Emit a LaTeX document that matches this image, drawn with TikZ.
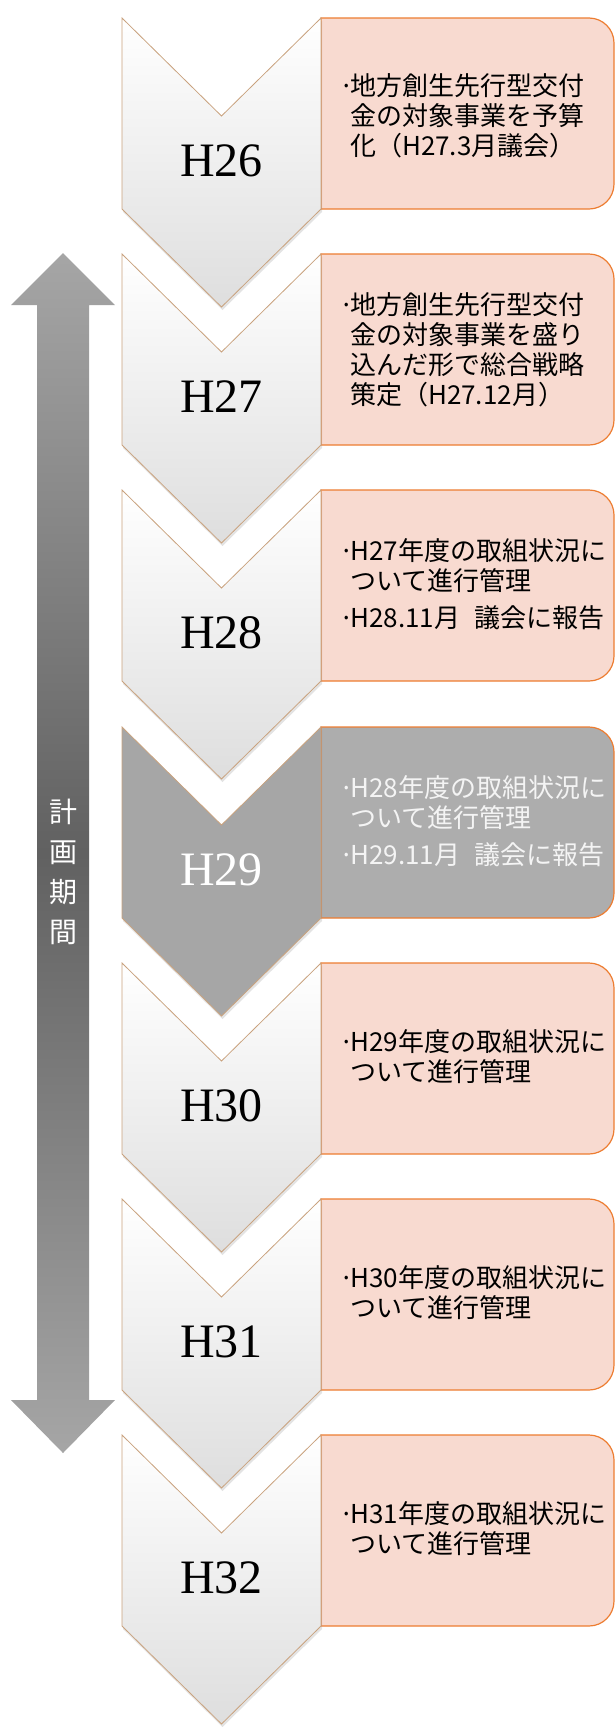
\documentclass[tikz,border=0pt]{standalone}
\usepackage{fontspec}
\setmainfont{Liberation Serif}
\newfontfamily\jp{Noto Sans CJK JP}
\usetikzlibrary{shadows}
\definecolor{boxpink}{HTML}{F8DAD0}
\definecolor{boxedge}{HTML}{ED7D31}
\definecolor{chevedge}{HTML}{C9A27E}
\definecolor{darkfill}{HTML}{A6A6A6}
\definecolor{darkbox}{HTML}{ADADAD}
\definecolor{lighttext}{HTML}{F4F4F4}
\newcommand\bl{\makebox[11pt][l]{·}}
\newcommand\ind{\hspace*{11pt}}
\newcommand\stage[5]{%
  \draw[#5] (321,#1) -- (589,#1) arc[start angle=-90,end angle=0,radius=25]
     -- (614,{#1+166}) arc[start angle=0,end angle=90,radius=25]
     -- (321,{#1+191}) -- cycle;
  \draw[#4] (122,#1) -- (221.5,{#1+98}) -- (321,#1) -- (321,{#1+191})
     -- (221.5,{#1+289}) -- (122,{#1+191}) -- cycle;
  \node[yearlabel] (#2) at (221.5,{#1+143}) {#3};
}
\tikzset{
  chevlight/.style={draw=chevedge, line width=0.8pt, top color=white, bottom color=black!13,
     drop shadow={opacity=0.22, shadow xshift=1pt, shadow yshift=-3pt}},
  chevdark/.style={draw=chevedge, line width=0.8pt, fill=darkfill,
     drop shadow={opacity=0.22, shadow xshift=1pt, shadow yshift=-3pt}},
  boxlight/.style={draw=boxedge, line width=1.2pt, fill=boxpink},
  boxdark/.style={draw=boxedge, line width=1.2pt, fill=darkbox},
  yearlabel/.style={font=\fontsize{48}{48}\selectfont, inner sep=0pt},
  boxtext/.style={anchor=west, align=left, inner sep=0pt, font=\jp\fontsize{26}{30}\selectfont},
}
\begin{document}
\begin{tikzpicture}[x=1pt,y=-1pt]
\useasboundingbox (0,0) rectangle (615,1727);
% period arrow
\path[top color=black!35, bottom color=black!35, middle color=black!62]
  (63,253) -- (115,305) -- (89,305) -- (89,1400) -- (115,1400) -- (63,1453)
  -- (11,1400) -- (37,1400) -- (37,305) -- (11,305) -- cycle;
\node[align=center, text=white, inner sep=0pt, font=\jp\fontsize{28}{40}\selectfont] (period) at (63,872) {計\\画\\期\\間};
% stages
\stage{18}{y26}{H26}{chevlight}{boxlight}
\stage{254}{y27}{H27}{chevlight}{boxlight}
\stage{490}{y28}{H28}{chevlight}{boxlight}
\stage{727}{y29}{\textcolor{white}{H29}}{chevdark}{boxdark}
\stage{963}{y30}{H30}{chevlight}{boxlight}
\stage{1199}{y31}{H31}{chevlight}{boxlight}
\stage{1435}{y32}{H32}{chevlight}{boxlight}
% texts
\node[boxtext] (t26) at (339,116) {\bl 地方創生先行型交付\\\ind 金の対象事業を予算\\\ind 化（H27.3月議会）};
\node[boxtext] (t27) at (339,350) {\bl 地方創生先行型交付\\\ind 金の対象事業を盛り\\\ind 込んだ形で総合戦略\\\ind 策定（H27.12月）};
\node[boxtext] (t28) at (339,584) {\bl H27年度の取組状況に\\\ind ついて進行管理\\[7pt]\bl H28.11月\hspace{14pt}議会に報告};
\node[boxtext, text=lighttext] (t29) at (339,821) {\bl H28年度の取組状況に\\\ind ついて進行管理\\[7pt]\bl H29.11月\hspace{14pt}議会に報告};
\node[boxtext] (t30) at (339,1057) {\bl H29年度の取組状況に\\\ind ついて進行管理};
\node[boxtext] (t31) at (339,1293) {\bl H30年度の取組状況に\\\ind ついて進行管理};
\node[boxtext] (t32) at (339,1529) {\bl H31年度の取組状況に\\\ind ついて進行管理};
\end{tikzpicture}
\end{document}
